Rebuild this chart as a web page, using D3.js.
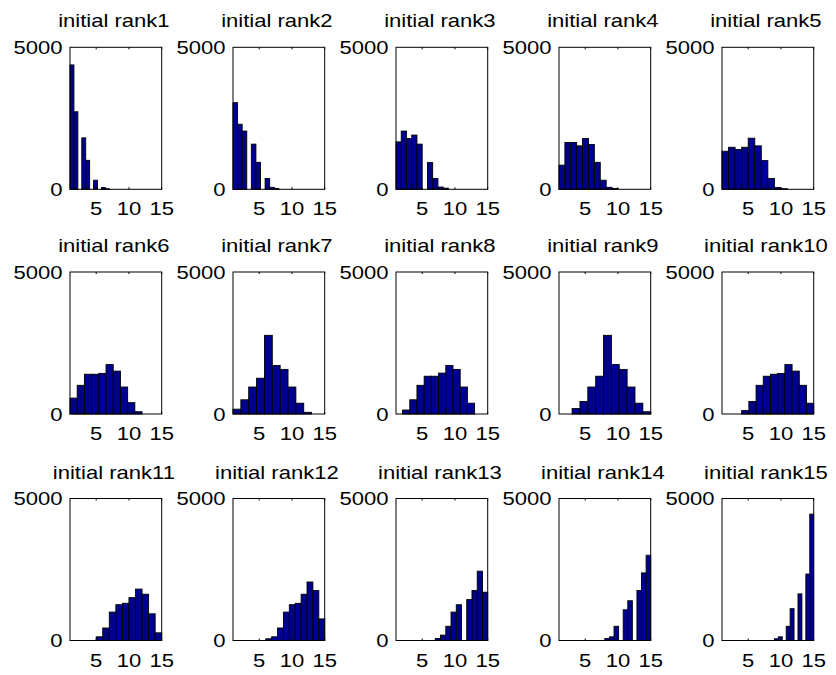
<!DOCTYPE html>
<html>
<head>
<meta charset="utf-8">
<script src="https://cdn.jsdelivr.net/npm/d3@7"></script>
<style>
  body { margin: 0; background: #fff; }
  text { font-family: "Liberation Sans", Arial, sans-serif; font-size: 17.5px; fill: #000; }
</style>
</head>
<body>
<svg id="chart" width="836" height="675"></svg>
<script>
// one panel per initial rank, hist() with 10 bins between binLo and binHi
const ranks = [1, 2, 3, 4, 5, 6, 7, 8, 9, 10, 11, 12, 13, 14, 15];
const binLo = [1, 1, 1, 1, 1, 1, 1, 2, 3, 4, 5, 6, 7, 8, 9];
const binHi = [7, 8, 9, 10, 11, 12, 13, 13, 15, 15, 15, 15, 15, 15, 15];
const counts = [
  [4380, 2730, 0, 1810, 1020, 0, 320, 0, 60, 20],
  [3050, 2290, 2050, 0, 1590, 950, 0, 380, 70, 30],
  [1670, 2050, 1790, 1910, 1590, 0, 940, 380, 80, 40],
  [850, 1650, 1650, 1530, 1790, 1580, 950, 320, 70, 30],
  [1340, 1480, 1400, 1480, 1800, 1530, 1010, 380, 60, 20],
  [560, 1010, 1400, 1400, 1430, 1740, 1510, 950, 400, 80],
  [170, 500, 950, 1260, 2770, 1710, 1570, 950, 380, 60],
  [140, 500, 1010, 1330, 1330, 1440, 1710, 1570, 950, 380],
  [190, 440, 950, 1330, 2770, 1740, 1570, 950, 380, 80],
  [120, 440, 1010, 1330, 1400, 1430, 1740, 1510, 1010, 380],
  [130, 440, 1000, 1260, 1310, 1510, 1810, 1630, 940, 270],
  [60, 130, 440, 1000, 1260, 1310, 1630, 2060, 1760, 760],
  [70, 190, 500, 1000, 1260, 0, 1440, 1760, 2440, 1700],
  [70, 130, 500, 0, 1080, 1400, 0, 1760, 2380, 3000],
  [60, 130, 0, 500, 1120, 0, 1640, 0, 2340, 4450]
];
const xDomain = [1, 15];
const yDomain = [0, 5000];
const xTicks = [5, 10, 15];
const yTicks = [0, 5000];

const svg = d3.select("#chart");
const W = 91.7, H = 142;
const colLeft = [70, 233, 396, 559, 722];
const rowTop = [47.3, 272, 498.5];
const stretch = 1.26; // glyphs in the picture are wider than Arial

function label(g, x, y, str, anchor) {
  g.append("text")
    .attr("transform", `translate(${x},${y}) scale(${stretch},1)`)
    .attr("text-anchor", anchor)
    .text(str);
}

ranks.forEach((r, i) => {
  const col = i % 5, row = Math.floor(i / 5);
  const g = svg.append("g").attr("transform", `translate(${colLeft[col]},${rowTop[row]})`);
  const x = d3.scaleLinear().domain(xDomain).range([0, W]);
  const y = d3.scaleLinear().domain(yDomain).range([H, 0]);
  const step = (binHi[i] - binLo[i]) / counts[i].length;

  g.selectAll("rect.bar")
    .data(counts[i])
    .join("rect")
    .attr("class", "bar")
    .attr("x", (d, k) => x(binLo[i] + k * step))
    .attr("width", x(binLo[i] + step) - x(binLo[i]))
    .attr("y", d => y(d))
    .attr("height", d => y(0) - y(d))
    .attr("fill", "#00008f")
    .attr("stroke", "#000")
    .attr("stroke-width", 0.9);

  // box
  g.append("rect")
    .attr("x", 0).attr("y", 0).attr("width", W).attr("height", H)
    .attr("fill", "none").attr("stroke", "#000").attr("stroke-width", 1);

  // inward ticks top and bottom
  xTicks.forEach(t => {
    g.append("line").attr("x1", x(t)).attr("x2", x(t)).attr("y1", 0).attr("y2", 2)
      .attr("stroke", "#000");
    g.append("line").attr("x1", x(t)).attr("x2", x(t)).attr("y1", H).attr("y2", H - 2)
      .attr("stroke", "#000");
    label(g, x(t), H + 26, t, "middle");
  });
  yTicks.forEach(t => {
    label(g, -7.5, y(t) + 6.5, t, "end");
  });

  label(g, W / 2 - 2, -20, "initial rank" + r, "middle");
});
</script>
</body>
</html>
